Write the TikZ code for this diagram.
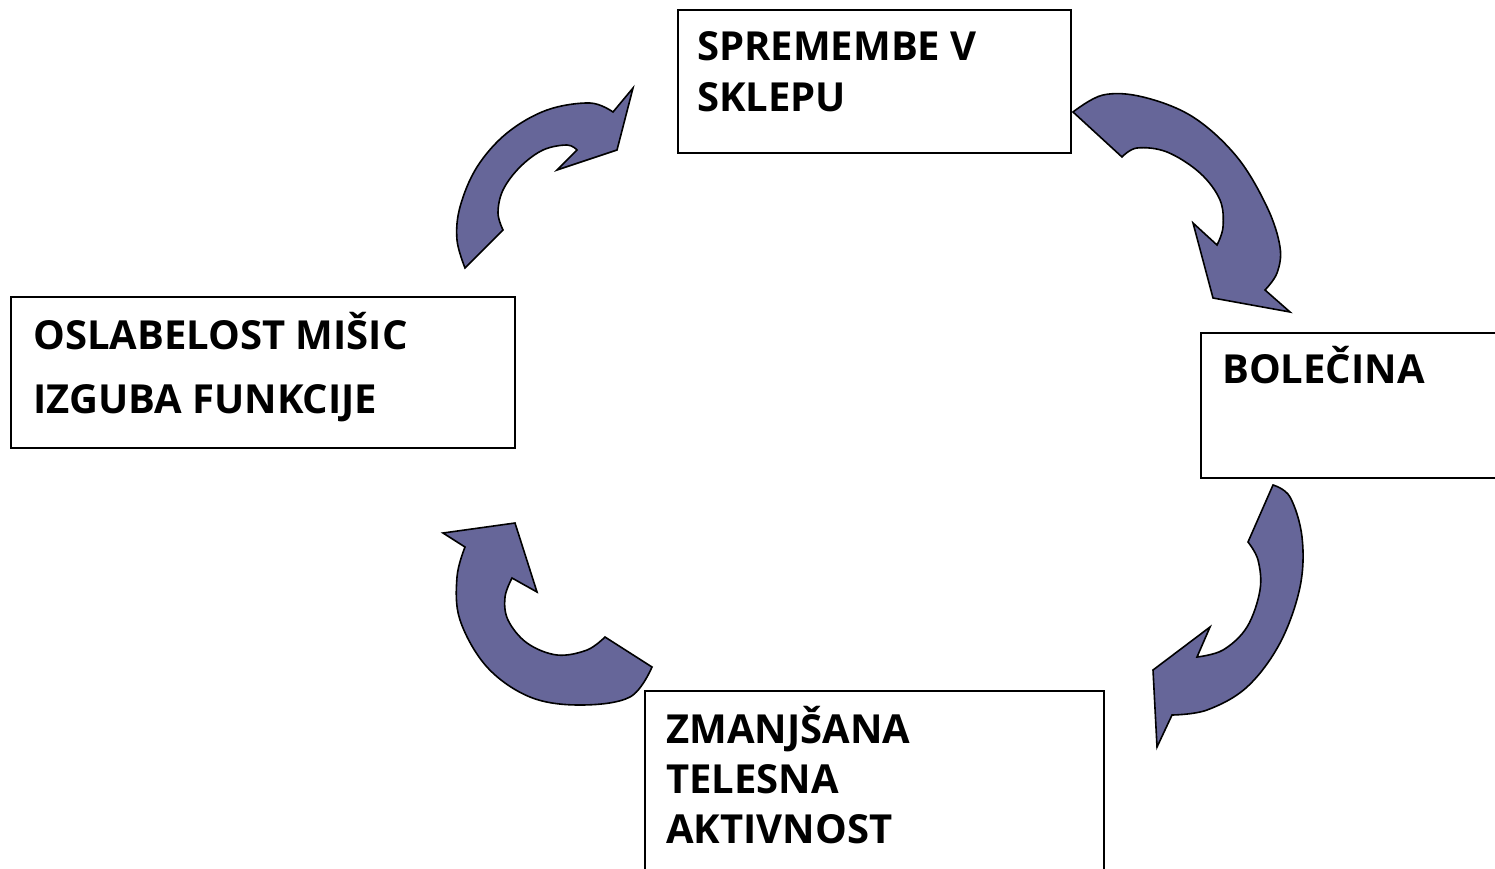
\documentclass[tikz,border=0pt]{standalone}
\usepackage{fontspec}
\setmainfont{Open Sans}
\definecolor{arrowfill}{RGB}{102,102,153}
\tikzset{
  box/.style={draw=black, line width=1.5pt, fill=white},
  lbl/.style={anchor=base west, inner sep=0pt, font=\fontsize{40}{52}\selectfont\bfseries},
  blockarrow/.style={draw=black, line width=1.6pt, fill=arrowfill, line join=miter},
}
\begin{document}
\begin{tikzpicture}[x=1pt, y=-1pt]
\useasboundingbox (0,0) rectangle (1495,868);
\clip (0,0) rectangle (1495,868);
\fill[white] (0,0) rectangle (1495,868);

% boxes
\draw[box] (678,10) rectangle (1071,153);
\draw[box] (1201,333) rectangle (1510,478);
\draw[box] (645,691) rectangle (1104,880);
\draw[box] (11,297) rectangle (515,448);

% texts
\node[lbl] (t1a) at (697,60) {SPREMEMBE V};
\node[lbl] (t1b) at (697,111) {SKLEPU};
\node[lbl] (t2a) at (1222,383) {BOLEČINA};
\node[lbl] (t3a) at (666,743) {ZMANJŠANA};
\node[lbl] (t3b) at (666,793) {TELESNA};
\node[lbl] (t3c) at (666,843) {AKTIVNOST};
\node[lbl] (t4a) at (33,349) {OSLABELOST MIŠIC};
\node[lbl] (t4b) at (33,413) {IZGUBA FUNKCIJE};

% arrow top-right
\draw[blockarrow] plot[smooth, tension=0.6] coordinates {(1073,112) (1103,95) (1143,97) (1193,117) (1237,157) (1267,207) (1280,247) (1277,273) (1265,290)}
  -- (1290,312) -- (1213,298) -- (1193,223) -- (1217,245)
  -- plot[smooth, tension=0.6] coordinates {(1217,245) (1223,227) (1220,200) (1200,173) (1167,152) (1137,148) (1122,157)}
  -- cycle;

% arrow right
\draw[blockarrow] plot[smooth, tension=0.6] coordinates {(1273,485) (1290,497) (1302,537) (1300,587) (1280,643) (1247,687) (1207,710) (1172,715)}
  -- (1157,747) -- (1153,670) -- (1210,627) -- (1197,657)
  -- plot[smooth, tension=0.6] coordinates {(1197,657) (1223,650) (1247,627) (1260,590) (1258,560) (1248,542)}
  -- cycle;

% arrow bottom-left
\draw[blockarrow] plot[smooth, tension=0.6] coordinates {(652,667) (630,697) (580,705) (530,697) (487,667) (460,620) (457,577) (465,547)}
  -- (443,533) -- (515,523) -- (537,592) -- (512,578)
  -- plot[smooth, tension=0.6] coordinates {(512,578) (505,597) (508,620) (527,643) (557,655) (587,650) (605,637)}
  -- cycle;

% arrow top-left
\draw[blockarrow] plot[smooth, tension=0.6] coordinates {(465,268) (457,240) (460,207) (477,167) (507,133) (547,110) (590,103) (613,112)}
  -- (633,88) -- (617,150) -- (557,170) -- (577,150)
  -- plot[smooth, tension=0.6] coordinates {(577,150) (567,145) (543,150) (520,167) (503,190) (498,213) (503,230)}
  -- cycle;
\end{tikzpicture}
\end{document}
